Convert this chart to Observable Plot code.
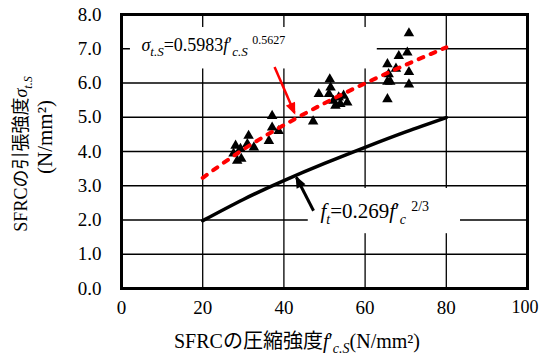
<!DOCTYPE html>
<html>
<head>
<meta charset="utf-8">
<script src="https://cdn.jsdelivr.net/npm/d3@7"></script>
<script src="https://cdn.jsdelivr.net/npm/@observablehq/plot@0.6"></script>
<style>
  html, body { margin: 0; padding: 0; background: #fff; }
  #chart svg text { font-family: "Liberation Serif", "Tinos", "Times New Roman", "DejaVu Serif", "Noto Sans CJK JP", serif !important; }
</style>
</head>
<body>
<div id="chart"></div>
<script>
// ---- data ----
const xTicks = [0, 20, 40, 60, 80, 100];
const yTicks = [0, 1, 2, 3, 4, 5, 6, 7, 8];

// measured points: compressive strength f'c.S vs tensile strength σt.S
const compX = [28.1, 29.3, 27.6, 28.5, 29.5, 31.3, 31.0, 32.6, 36.3, 37.1, 37.1, 38.7,
               51.3, 51.5, 48.6, 51.1, 52.2, 53.5, 54.7, 55.6, 53.9, 52.7, 47.2,
               70.8, 70.4, 68.3, 65.5, 67.6, 70.8, 65.8, 65.5, 66.2, 70.8, 65.5];
const tensY = [4.17, 4.08, 3.94, 3.73, 3.79, 4.46, 4.22, 4.12, 4.31, 5.04, 4.70, 4.60,
               6.11, 5.87, 5.68, 5.68, 5.48, 5.58, 5.63, 5.43, 5.39, 5.34, 4.88,
               7.45, 6.89, 6.79, 6.55, 6.42, 6.32, 6.26, 6.04, 6.04, 5.96, 5.53];

// fitted curve (red dashed) read at these x
const curveX = [20, 30, 40, 50, 60, 70, 80];
const fitY   = [3.23, 4.06, 4.77, 5.41, 5.99, 6.53, 7.04];
// design curve f_t (black)
const ftY    = [1.98, 2.60, 3.15, 3.65, 4.12, 4.57, 4.99];

// annotations
const noteX = [4.9, 49.0];
const noteY = [7.11, 2.245];
const noteKey = ["fit", "ft"];
const boxX1 = [2.2, 46.0], boxX2 = [63.0, 83.5];
const boxY1 = [6.41, 1.60], boxY2 = [7.62, 2.92];
const arrowX1 = [37.7, 47.3], arrowY1 = [6.47, 2.27];
const arrowX2 = [42.6, 43.1], arrowY2 = [5.13, 3.24];
const arrowColor = ["red", "black"];

// ---- build tables ----
const points = compX.map((x, i) => ({x, y: tensY[i]}));
const fit = curveX.map((x, i) => ({x, y: fitY[i]}));
const ft = curveX.map((x, i) => ({x, y: ftY[i]}));
const notes = noteKey.map((k, i) => ({k, x: noteX[i], y: noteY[i]}));
const boxes = boxX1.map((x1, i) => ({x1, x2: boxX2[i], y1: boxY1[i], y2: boxY2[i]}));
const arrows = arrowX1.map((x1, i) => ({x1, y1: arrowY1[i], x2: arrowX2[i], y2: arrowY2[i], c: arrowColor[i]}));

const FONT = "Liberation Serif, Tinos, Times New Roman, DejaVu Serif, Noto Sans CJK JP, serif";

const plot = Plot.plot({
  width: 539,
  height: 358,
  marginLeft: 121,
  marginRight: 12,
  marginTop: 14,
  marginBottom: 70,
  style: {fontSize: "19px", color: "black", background: "white", overflow: "visible"},
  x: {domain: [0, 100], ticks: xTicks, tickSize: 0, tickPadding: 12, label: null},
  y: {domain: [0, 8], ticks: yTicks, tickSize: 0, tickPadding: 20, tickFormat: d => d.toFixed(1), label: null},
  marks: [
    Plot.ruleX(xTicks.slice(1, -1), {stroke: "black", strokeWidth: 1.3}),
    Plot.ruleY(yTicks.slice(1, -1), {stroke: "black", strokeWidth: 1.3}),
    Plot.rect(boxes, {x1: "x1", x2: "x2", y1: "y1", y2: "y2", fill: "white"}),
    Plot.dot(points, {x: "x", y: "y", symbol: "triangle", r: 3.9, fill: "black", stroke: "none"}),
    Plot.line(ft, {x: "x", y: "y", stroke: "black", strokeWidth: 3.5, curve: "natural"}),
    Plot.line(fit, {x: "x", y: "y", stroke: "#ff0000", strokeWidth: 4, strokeDasharray: "5,8", strokeLinecap: "round", curve: "natural"}),
    Plot.link(arrows.filter(d => d.c === "red"), {x1: "x1", y1: "y1", x2: "x2", y2: "y2", stroke: "red", strokeWidth: 2.5, ariaDescription: "arrow-red"}),
    Plot.link(arrows.filter(d => d.c === "black"), {x1: "x1", y1: "y1", x2: "x2", y2: "y2", stroke: "black", strokeWidth: 3, ariaDescription: "arrow-black"}),
    Plot.text(notes.filter(d => d.k === "fit"), {x: "x", y: "y", text: d => "σt.S=0.5983f′c.S 0.5627", textAnchor: "start", ariaDescription: "note-fit"}),
    Plot.text(notes.filter(d => d.k === "ft"), {x: "x", y: "y", text: d => "ft=0.269f′c 2/3", textAnchor: "start", ariaDescription: "note-ft"}),
    Plot.frame({stroke: "black", strokeWidth: 3})
  ]
});

const svg = d3.select(plot);
svg.attr("font-family", FONT);
svg.selectAll("text").attr("fill", "black").attr("font-family", FONT).attr("font-size", 19);
// keep the last x tick label inside the picture
svg.selectAll("text").filter(function() { return d3.select(this).text() === "100"; })
  .attr("font-size", 18).attr("text-anchor", "end").attr("dx", 11);

function group(desc, fallback) {
  let g = svg.selectAll(`[aria-description="${desc}"]`);
  if (g.empty()) g = svg.selectAll(fallback);
  return g;
}

// arrowheads
const defs = svg.insert("defs", ":first-child");
[["headRed", "red"], ["headBlack", "black"]].forEach(([id, c]) => {
  defs.append("marker")
    .attr("id", id).attr("viewBox", "0 0 12 10").attr("refX", 10).attr("refY", 5)
    .attr("markerWidth", 13).attr("markerHeight", 10).attr("markerUnits", "userSpaceOnUse")
    .attr("orient", "auto")
    .append("path").attr("d", "M0,0 L12,5 L0,10 Z").attr("fill", c);
});
group("arrow-red", 'g[stroke="red"]').selectAll("path, line").attr("marker-end", "url(#headRed)");
group("arrow-black", 'g[stroke-width="3"]').selectAll("path, line").attr("marker-end", "url(#headBlack)");

// rich text helper
function rich(sel, segs, base) {
  sel.text(null);
  let shift = 0;
  segs.forEach(([t, o = {}]) => {
    const want = o.sub ? base * 0.28 : o.sup ? -base * 0.36 : 0;
    const ts = sel.append("tspan").text(t).attr("dy", want - shift);
    shift = want;
    if (o.italic) ts.attr("font-style", "italic");
    if (o.size) ts.attr("font-size", o.size);
  });
}

svg.selectAll("text").each(function() {
  const s = d3.select(this);
  const t = s.text();
  if (t === "σt.S=0.5983f′c.S 0.5627") {
    s.attr("font-size", 18);
    rich(s, [
      ["σ", {italic: true}], ["t.S", {italic: true, sub: true, size: 13}],
      ["=0.5983"], ["f", {italic: true}], ["′"], ["c.S", {italic: true, sub: true, size: 13}],
      [" "], ["0.5627", {sup: true, size: 12}]
    ], 18);
  } else if (t === "ft=0.269f′c 2/3") {
    s.attr("font-size", 21);
    rich(s, [
      ["f", {italic: true}], ["t", {italic: true, sub: true, size: 14}],
      ["=0.269"], ["f", {italic: true}], ["′"], ["c", {italic: true, sub: true, size: 14}],
      [" "], ["2/3", {sup: true, size: 14}]
    ], 20);
  }
});

// axis titles
const xt = svg.append("text").attr("x", 297).attr("y", 348).attr("text-anchor", "middle")
  .attr("font-size", 20).attr("fill", "black").attr("font-family", FONT);
rich(xt, [["SFRCの圧縮強度"], ["f", {italic: true}], ["′"], ["c.S", {italic: true, sub: true, size: 14}], ["(N/mm²)"]], 18);

const yt1 = svg.append("text").attr("transform", "translate(27,154) rotate(-90)").attr("text-anchor", "middle")
  .attr("font-size", 18).attr("fill", "black").attr("font-family", FONT);
rich(yt1, [["SFRCの引張強度"], ["σ", {italic: true}], ["t.S", {italic: true, sub: true, size: 12}]], 18);
svg.append("text").attr("transform", "translate(52,137) rotate(-90)").attr("text-anchor", "middle")
  .attr("font-size", 21).attr("fill", "black").attr("font-family", FONT).text("(N/mm²)");

document.getElementById("chart").appendChild(plot);
</script>
</body>
</html>
